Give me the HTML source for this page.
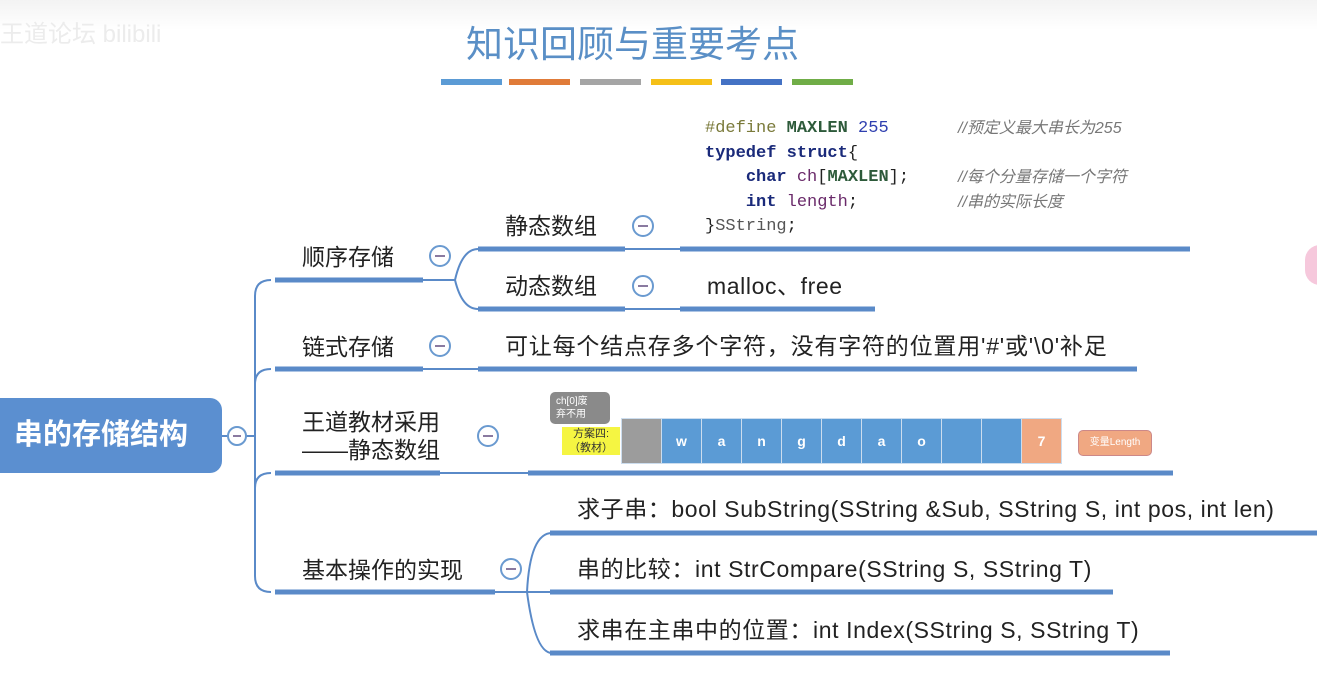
<!DOCTYPE html>
<html><head><meta charset="utf-8"><style>
body{margin:0;width:1317px;height:687px;overflow:hidden;background:#fff;font-family:"Liberation Sans","Noto Sans CJK SC",sans-serif;position:relative}
.t{position:absolute;font-size:23px;color:#222;white-space:nowrap;line-height:26px}
.l{letter-spacing:0.6px}
.code{position:absolute;left:705px;top:117px;font-family:"Liberation Mono","Noto Sans CJK SC",monospace;font-size:17px;line-height:24.5px;white-space:pre;color:#222}
.cm{position:absolute;left:958px;top:117px;font-size:16px;line-height:24.5px;color:#777;font-style:italic;white-space:pre}
.k{color:#1a2a7a;font-weight:bold}.m{color:#2d5a3a;font-weight:bold}.n{color:#3040b0}.v{color:#6a2a6a}
</style></head><body>
<div style="position:absolute;left:0;top:0;width:1317px;height:30px;background:linear-gradient(#f3f3f3,#fff)"></div>
<div style="position:absolute;left:0;top:14px;font-size:24px;color:#ececec">王道论坛 bilibili</div>
<div style="position:absolute;left:466px;top:14px;font-size:37px;color:#5a8fc6;letter-spacing:0px">知识回顾与重要考点</div>
<div style="position:absolute;top:79px;left:441px;width:61px;height:6px;background:#5b9bd5"></div>
<div style="position:absolute;top:79px;left:509px;width:61px;height:6px;background:#e07b39"></div>
<div style="position:absolute;top:79px;left:580px;width:61px;height:6px;background:#a5a5a5"></div>
<div style="position:absolute;top:79px;left:651px;width:61px;height:6px;background:#f5c018"></div>
<div style="position:absolute;top:79px;left:721px;width:61px;height:6px;background:#4472c4"></div>
<div style="position:absolute;top:79px;left:792px;width:61px;height:6px;background:#70ad47"></div>
<div style="position:absolute;left:1305px;top:245px;width:30px;height:40px;border-radius:15px;background:#f6c8dc"></div>

<svg width="1317" height="687" style="position:absolute;left:0;top:0" fill="none">
<g stroke="#5a8ac8" stroke-width="2">
<line x1="222" y1="436" x2="228" y2="436"/>
<path d="M246 436 H255 M255 296 Q255 280 271 280 M255 296 V576 Q255 592 271 592 M255 384 Q255 369 271 369 M255 488 Q255 473 271 473"/>
<line x1="423" y1="280" x2="455" y2="280"/>
<path d="M455 280 Q462 249 478 249 M455 280 Q462 309 478 309"/>
<line x1="625" y1="249" x2="680" y2="249"/><line x1="625" y1="309" x2="680" y2="309"/>
<line x1="423" y1="369" x2="478" y2="369"/>
<line x1="440" y1="473" x2="528" y2="473"/>
<line x1="495" y1="592" x2="527" y2="592"/>
<path d="M527 592 Q530 533 552 533 M527 592 Q535 653 552 653 M527 592 H552"/>
</g>
<g stroke="#5a8ac8" stroke-width="5">
<line x1="275" y1="280" x2="423" y2="280"/>
<line x1="275" y1="369" x2="423" y2="369"/>
<line x1="275" y1="473" x2="440" y2="473"/>
<line x1="275" y1="592" x2="495" y2="592"/>
<line x1="478" y1="249" x2="625" y2="249"/>
<line x1="478" y1="309" x2="625" y2="309"/>
<line x1="680" y1="249" x2="1190" y2="249"/>
<line x1="680" y1="309" x2="875" y2="309"/>
<line x1="478" y1="369" x2="1137" y2="369"/>
<line x1="528" y1="473" x2="1173" y2="473"/>
<line x1="550" y1="533" x2="1317" y2="533"/>
<line x1="550" y1="592" x2="1113" y2="592"/>
<line x1="550" y1="653" x2="1170" y2="653"/>
</g>
<g stroke="#6a9ad0" stroke-width="2" fill="#fff">
<circle cx="237" cy="436" r="9"/><circle cx="440" cy="256" r="10"/><circle cx="440" cy="346" r="10"/>
<circle cx="488" cy="436" r="10"/><circle cx="511" cy="569" r="10"/><circle cx="643" cy="226" r="10"/><circle cx="643" cy="286" r="10"/>
</g>
<g stroke="#8a7aa0" stroke-width="2">
<line x1="233" y1="436" x2="241" y2="436"/><line x1="435" y1="256" x2="445" y2="256"/><line x1="435" y1="346" x2="445" y2="346"/>
<line x1="483" y1="436" x2="493" y2="436"/><line x1="506" y1="569" x2="516" y2="569"/><line x1="638" y1="226" x2="648" y2="226"/><line x1="638" y1="286" x2="648" y2="286"/>
</g>
</svg>

<div style="position:absolute;left:0;top:398px;width:222px;height:75px;background:#5b8fd0;border-radius:0 12px 12px 0;color:#fff;font-size:29px;font-weight:bold;line-height:75px;text-indent:14px">串的存储结构</div>

<div class="t" style="left:302px;top:244px">顺序存储</div>
<div class="t" style="left:302px;top:334px">链式存储</div>
<div class="t" style="left:302px;top:409px">王道教材采用</div>
<div class="t" style="left:302px;top:437px">——静态数组</div>
<div class="t" style="left:302px;top:557px">基本操作的实现</div>
<div class="t" style="left:505px;top:213px">静态数组</div>
<div class="t" style="left:505px;top:273px">动态数组</div>
<div class="t l" style="left:707px;top:273px">malloc、free</div>
<div class="t" style="left:505px;top:333px;letter-spacing:0.8px">可让每个结点存多个字符，没有字符的位置用'#'或'\0'补足</div>
<div class="t l" style="left:577px;top:496px">求子串：bool SubString(SString &amp;Sub, SString S, int pos, int len)</div>
<div class="t l" style="left:577px;top:556px">串的比较：int StrCompare(SString S, SString T)</div>
<div class="t l" style="left:577px;top:617px">求串在主串中的位置：int Index(SString S, SString T)</div>

<div class="code"><span style="color:#7a7a3a">#define</span> <span class="m">MAXLEN</span> <span class="n">255</span>
<span class="k">typedef struct</span>{
    <span class="k">char</span> <span class="v">ch</span>[<span class="m">MAXLEN</span>];
    <span class="k">int</span> <span class="v">length</span>;
}<span style="color:#555">SString</span>;</div>
<div class="cm">//预定义最大串长为255

//每个分量存储一个字符
//串的实际长度</div>

<div style="position:absolute;left:550px;top:392px;width:60px;height:32px;background:#8a8a8a;border-radius:5px;color:#fff;font-size:10px;line-height:13px;padding:3px 0 0 6px;box-sizing:border-box">ch[0]废<br>弃不用</div>
<div style="position:absolute;left:562px;top:427px;background:#f5f542;font-size:11px;line-height:14px;color:#333;text-align:center;width:58px">方案四:<br>（教材）</div>
<div style="position:absolute;left:621px;top:418px;display:flex;height:44px;border:1px solid #cde">
<div style="width:39px;background:#9c9c9c"></div>
<div style="width:39px;background:#5b9bd5;color:#fff;font-weight:bold;font-size:14px;line-height:44px;text-align:center;border-left:1px solid #cde">w</div>
<div style="width:39px;background:#5b9bd5;color:#fff;font-weight:bold;font-size:14px;line-height:44px;text-align:center;border-left:1px solid #cde">a</div>
<div style="width:39px;background:#5b9bd5;color:#fff;font-weight:bold;font-size:14px;line-height:44px;text-align:center;border-left:1px solid #cde">n</div>
<div style="width:39px;background:#5b9bd5;color:#fff;font-weight:bold;font-size:14px;line-height:44px;text-align:center;border-left:1px solid #cde">g</div>
<div style="width:39px;background:#5b9bd5;color:#fff;font-weight:bold;font-size:14px;line-height:44px;text-align:center;border-left:1px solid #cde">d</div>
<div style="width:39px;background:#5b9bd5;color:#fff;font-weight:bold;font-size:14px;line-height:44px;text-align:center;border-left:1px solid #cde">a</div>
<div style="width:39px;background:#5b9bd5;color:#fff;font-weight:bold;font-size:14px;line-height:44px;text-align:center;border-left:1px solid #cde">o</div>
<div style="width:39px;background:#5b9bd5;border-left:1px solid #cde"></div>
<div style="width:39px;background:#5b9bd5;border-left:1px solid #cde"></div>
<div style="width:39px;background:#f0a882;color:#fff;font-weight:bold;font-size:14px;line-height:44px;text-align:center;border-left:1px solid #cde">7</div>
</div>
<div style="position:absolute;left:1078px;top:430px;width:72px;height:24px;background:#f0a882;border:1px solid #c88;border-radius:5px;color:#fff;font-size:10px;line-height:24px;text-align:center">变量Length</div>
</body></html>
